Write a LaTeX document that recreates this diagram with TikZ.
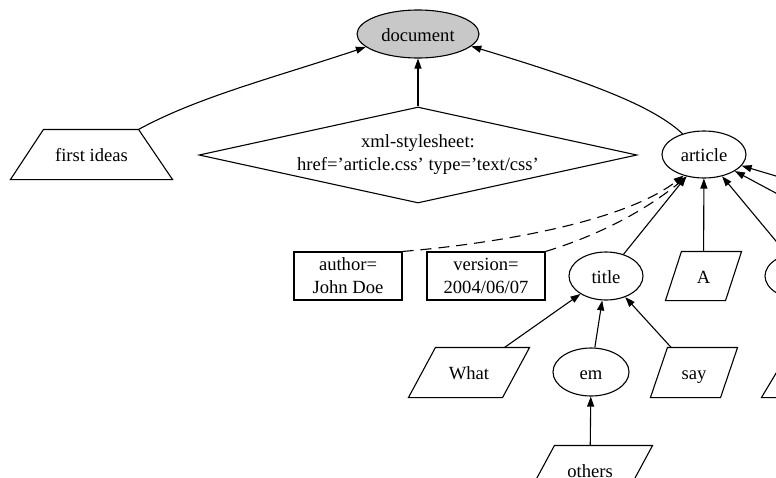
\documentclass[tikz,border=0pt]{standalone}
\usepackage{fontspec}
\setmainfont{Liberation Serif}
\usetikzlibrary{shapes.geometric,arrows.meta}
\definecolor{docgray}{RGB}{200,200,200}
\tikzset{
  base/.style={font=\fontsize{18.6}{23}\selectfont, align=center, inner sep=0pt, line width=1.1pt},
  one/.style={text height=17pt, text depth=2.5pt},
  ell/.style={base, one, ellipse, draw},
  box/.style={base, rectangle, draw},
  pbox/.style={base, one, rectangle},
  shp/.style={line width=1.1pt, line join=miter},
  conn/.style={line width=1.1pt, -{Triangle[length=10pt,width=7pt]}},
  dconn/.style={conn, dash pattern=on 11pt off 7pt},
}
\newcommand\paraline[2]{\draw[shp] ([xshift=#2]#1.north west) -- (#1.north east) -- ([xshift=-#2]#1.south east) -- (#1.south west) -- cycle;}
\begin{document}
\begin{tikzpicture}[x=1pt,y=-1pt]
\useasboundingbox (0,0) rectangle (776,477);
\clip (0,0) rectangle (776,477);
% nodes
\node[ell, fill=docgray, minimum width=122pt, minimum height=48pt] (doc) at (418,34) {document};
\node[pbox, minimum width=161pt, minimum height=49pt] (fi) at (91.5,154.5) {first ideas};
\draw[shp] ([xshift=33pt]fi.north west) -- ([xshift=-34pt]fi.north east) -- (fi.south east) -- (fi.south west) -- cycle;
\node[base, diamond, draw, aspect=4.56, minimum width=438pt, minimum height=96pt] (ss) at (418,155) {xml-stylesheet:\\href='article.css' type='text/css'};
\node[ell, minimum width=84pt, minimum height=47pt] (art) at (704,154.5) {article};
\node[box, minimum width=108pt, minimum height=48pt] (au) at (348,276) {author=\\John Doe};
\node[box, minimum width=118pt, minimum height=48pt] (ve) at (486,276) {version=\\2004/06/07};
\node[ell, minimum width=74pt, minimum height=48pt] (ti) at (606,276) {title};
\node[pbox, minimum width=75pt, minimum height=48pt] (A) at (703.5,276) {A};
\paraline{A}{16pt}
\node[ell, minimum width=80pt, minimum height=48pt] (r1) at (805,276) {};
\node[pbox, minimum width=120pt, minimum height=49pt] (wh) at (469,372.5) {What};
\paraline{wh}{27pt}
\node[ell, minimum width=76pt, minimum height=48pt] (em) at (591,372) {em};
\node[pbox, minimum width=86pt, minimum height=49pt] (say) at (694,372.5) {say};
\paraline{say}{17pt}
\node[pbox, minimum width=124pt, minimum height=49pt] (ot) at (590,470.5) {others};
\paraline{ot}{27pt}
\node[pbox, minimum width=100pt, minimum height=49pt] (r2) at (812,372.5) {};
\paraline{r2}{30pt}
\coordinate (r3) at (950,228);
\coordinate (r4) at (880,249);
% connectors
\draw[conn] (ss.north) -- (doc.south);
\draw[conn] ([xshift=-34pt]fi.north east) .. controls (198,97) and (273,78) .. (doc.194);
\draw[conn] (art.136) .. controls (655,108) and (600,85) .. (doc.347);
\draw[dconn] (au.north east) .. controls (480,245) and (620,225) .. (art.226);
\draw[dconn] (ve.north east) .. controls (590,238) and (640,215) .. (art.232);
\draw[conn] (ti) -- (art);
\draw[conn] (A) -- (art);
\draw[conn] (r1) -- (art);
\draw[conn] (r3) -- (art);
\draw[conn] (r4) -- (art);
\draw[conn] (wh) -- (ti);
\draw[conn] (em) -- (ti);
\draw[conn] (say) -- (ti);
\draw[conn] (ot) -- (em);
\end{tikzpicture}
\end{document}
